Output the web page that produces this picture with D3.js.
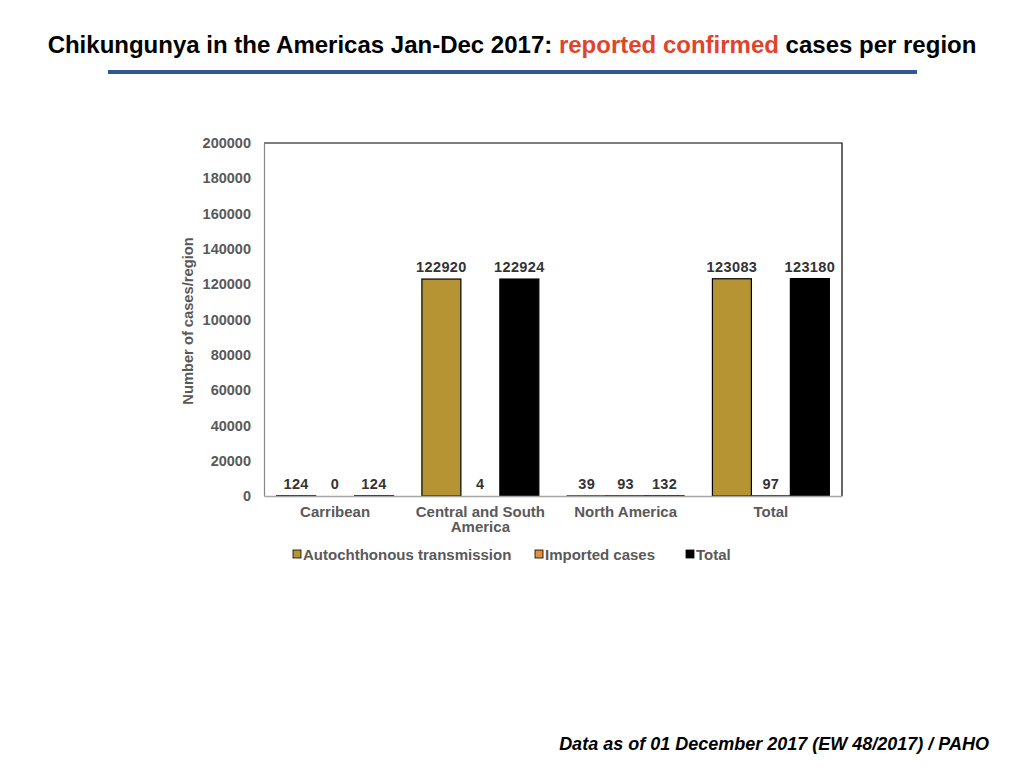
<!DOCTYPE html>
<html>
<head>
<meta charset="utf-8">
<script src="https://cdn.jsdelivr.net/npm/d3@7"></script>
<style>
  body { margin: 0; background: #fff; }
  svg { display: block; font-family: "Liberation Sans", Arial, sans-serif; }
</style>
</head>
<body>
<svg id="chart" width="1024" height="768"></svg>
<script>
// data
const regions = ["Carribean", "Central and South America", "North America", "Total"];
const regionLines = [["Carribean"], ["Central and South", "America"], ["North America"], ["Total"]];
const seriesNames = ["Autochthonous transmission", "Imported cases", "Total"];
const autochthonous = [124, 122920, 39, 123083];
const imported = [0, 4, 93, 97];
const totals = [124, 122924, 132, 123180];
const yTicks = [0, 20000, 40000, 60000, 80000, 100000, 120000, 140000, 160000, 180000, 200000];

const seriesColors = ["#B69433", "#E2913F", "#000000"];
const seriesValues = [autochthonous, imported, totals];

const svg = d3.select("#chart");

// TITLE
const title = svg.append("text")
  .attr("x", 512).attr("y", 53)
  .attr("text-anchor", "middle")
  .attr("font-size", 24).attr("font-weight", "bold")
  .attr("fill", "#000");
title.append("tspan").text("Chikungunya in the Americas Jan-Dec 2017: ");
title.append("tspan").attr("fill", "#E0452B").text("reported confirmed");
title.append("tspan").text(" cases per region");

svg.append("rect")
  .attr("x", 108).attr("y", 70).attr("width", 809).attr("height", 4)
  .attr("fill", "#2F5894");

// PLOT AREA
const plotL = 264, plotR = 842, plotT = 143, plotB = 496;

const x = d3.scaleBand().domain(regions).range([plotL, plotR])
  .paddingInner(0.195).paddingOuter(0.087);
const xs = d3.scaleBand().domain(d3.range(seriesNames.length)).range([0, x.bandwidth()]);
const y = d3.scaleLinear().domain([0, 200000]).range([plotB, plotT]);

// frame top/right
svg.append("path")
  .attr("d", `M${plotL},${plotT}H${plotR}V${plotB}`)
  .attr("fill", "none").attr("stroke", "#000").attr("stroke-width", 1.2);

// BARS
const rows = regions.map((r, i) => ({ region: r, vals: seriesValues.map(s => s[i]) }));

const groups = svg.selectAll(".grp").data(rows).enter()
  .append("g").attr("class", "grp")
  .attr("transform", d => `translate(${x(d.region)},0)`);

groups.selectAll("rect").data(d => d.vals).enter()
  .append("rect")
  .attr("x", (d, i) => xs(i))
  .attr("y", d => y(d))
  .attr("width", xs.bandwidth())
  .attr("height", d => plotB - y(d))
  .attr("fill", (d, i) => seriesColors[i])
  .attr("stroke", d => d > 10 ? "#000" : "none")
  .attr("stroke-width", 1.2);

groups.selectAll("text").data(d => d.vals).enter()
  .append("text")
  .attr("x", (d, i) => xs(i) + xs.bandwidth() / 2)
  .attr("y", d => y(d) - 7)
  .attr("text-anchor", "middle")
  .attr("font-size", 14.5).attr("font-weight", "bold")
  .attr("letter-spacing", 0.4)
  .attr("fill", "#333")
  .text(d => d);

// AXES
const yAxis = svg.append("g").attr("transform", `translate(${plotL},0)`)
  .call(d3.axisLeft(y).tickValues(yTicks).tickSize(0).tickPadding(13).tickFormat(d3.format("d")));
yAxis.select(".domain").attr("stroke", "#888").attr("stroke-width", 1.2);
yAxis.selectAll("text")
  .attr("font-family", "'Liberation Sans', Arial, sans-serif")
  .attr("font-size", 14.5).attr("font-weight", "bold").attr("fill", "#595959");

const xAxis = svg.append("g").attr("transform", `translate(0,${plotB})`)
  .call(d3.axisBottom(x).tickSize(0).tickFormat(""));
xAxis.select(".domain").attr("stroke", "#A6A6A6").attr("stroke-width", 1.5);

svg.selectAll(".xlab").data(regions).enter()
  .append("text").attr("class", "xlab")
  .attr("x", d => x(d) + x.bandwidth() / 2)
  .attr("y", 517)
  .attr("text-anchor", "middle")
  .attr("font-size", 15).attr("font-weight", "bold").attr("fill", "#595959")
  .each(function (d, i) {
    regionLines[i].forEach((line, j) => {
      d3.select(this).append("tspan")
        .attr("x", x(d) + x.bandwidth() / 2)
        .attr("dy", j === 0 ? 0 : 15)
        .text(line);
    });
  });

svg.append("text")
  .attr("transform", "translate(193,321) rotate(-90)")
  .attr("text-anchor", "middle")
  .attr("font-size", 14.7).attr("font-weight", "bold").attr("fill", "#595959")
  .text("Number of cases/region");

// LEGEND
const legendX = [293, 535, 686];
const legend = svg.selectAll(".leg").data(seriesNames).enter()
  .append("g").attr("class", "leg")
  .attr("transform", (d, i) => `translate(${legendX[i]},554)`);
legend.append("rect")
  .attr("x", 0).attr("y", -4).attr("width", 8).attr("height", 8)
  .attr("fill", (d, i) => seriesColors[i])
  .attr("stroke", "#000").attr("stroke-width", 0.8);
legend.append("text")
  .attr("x", 10).attr("y", 5.5)
  .attr("font-size", 15).attr("font-weight", "bold").attr("fill", "#595959")
  .text(d => d);

// FOOTER
svg.append("text")
  .attr("x", 989).attr("y", 750)
  .attr("text-anchor", "end")
  .attr("font-size", 18).attr("font-weight", "bold").attr("font-style", "italic")
  .attr("fill", "#000")
  .text("Data as of 01 December 2017 (EW 48/2017) / PAHO");
</script>
</body>
</html>
